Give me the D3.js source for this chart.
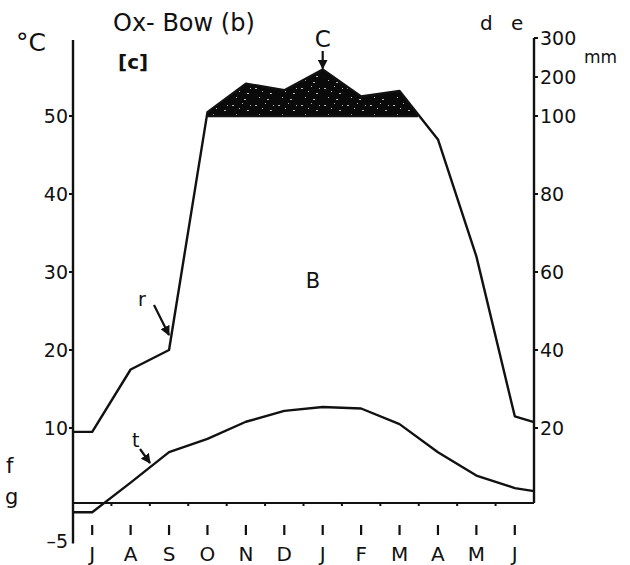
<!DOCTYPE html>
<html>
<head>
<meta charset="utf-8">
<script src="https://cdn.jsdelivr.net/npm/d3@7"></script>
<style>
  body { margin: 0; background: #fff; }
  svg text { font-family: "DejaVu Sans", "Liberation Sans", sans-serif; fill: #111; }
</style>
</head>
<body>
<svg width="630" height="565"></svg>
<script>
// month labels, July to June
var months = ["J","A","S","O","N","D","J","F","M","A","M","J"];
// mean monthly temperature, degC
var temp = [-0.8, 3.0, 6.9, 8.6, 10.8, 12.2, 12.7, 12.5, 10.5, 6.9, 3.9, 2.3];
// monthly rainfall, mm
var rain = [19, 35, 40, 110, 183, 166, 219, 150, 164, 94, 64, 23];
// values where the curves meet the side axes
var tempEdge = [-0.8, 1.9];
var rainEdge = [19, 21.5];
var tempTicks = [50, 40, 30, 20, 10];
var rainTicks = [300, 200, 100, 80, 60, 40, 20];

var svg = d3.select("svg");
var defs = svg.append("defs");
var left = 73, right = 534;
var ink = "#111";

var x = d3.scaleBand().domain(d3.range(12)).range([left, right]);
function cx(i) { return x(i) + x.bandwidth() / 2; }

var yT = d3.scaleLinear().domain([0, 50]).range([506, 116]);
// rain: 20 mm per 10 degC up to 100 mm, then compressed 1:10
var yR = d3.scaleLinear().domain([0, 100, 300]).range([yT(0), yT(50), yT(60)]);

var tPts = [[left, tempEdge[0]]].concat(temp.map(function(d, i) { return [cx(i), d]; }), [[right, tempEdge[1]]]);
var rPts = [[left, rainEdge[0]]].concat(rain.map(function(d, i) { return [cx(i), d]; }), [[right, rainEdge[1]]]);

// speckled black fill for the surplus above 100 mm
var pat = defs.append("pattern").attr("id", "speck")
  .attr("patternUnits", "userSpaceOnUse").attr("width", 23).attr("height", 17);
pat.append("rect").attr("width", 23).attr("height", 17).attr("fill", "#0a0a0a");
[[2, 3, 2, 1], [12, 1, 1, 1], [17, 8, 2, 1], [6, 12, 1, 1], [14, 14, 2, 1], [9, 6, 1, 1], [20, 3, 1, 1]].forEach(function(s) {
  pat.append("rect").attr("x", s[0]).attr("y", s[1]).attr("width", s[2]).attr("height", s[3]).attr("fill", "#bbb");
});

defs.append("clipPath").attr("id", "above")
  .append("rect").attr("x", left).attr("y", 0).attr("width", right - left).attr("height", yR(100));

svg.append("path")
  .datum(rPts)
  .attr("clip-path", "url(#above)")
  .attr("fill", "url(#speck)")
  .attr("d", d3.area().x(function(d) { return d[0]; }).y0(yR(100)).y1(function(d) { return yR(d[1]); }));

// 100 mm line under the surplus
svg.append("line")
  .attr("x1", cx(3)).attr("x2", cx(9) - 20)
  .attr("y1", yR(100)).attr("y2", yR(100))
  .attr("stroke", ink).attr("stroke-width", 2.4);

svg.append("path").datum(rPts)
  .attr("fill", "none").attr("stroke", ink).attr("stroke-width", 2.4).attr("stroke-linejoin", "round")
  .attr("d", d3.line().x(function(d) { return d[0]; }).y(function(d) { return yR(d[1]); }));

svg.append("path").datum(tPts)
  .attr("fill", "none").attr("stroke", ink).attr("stroke-width", 2.4).attr("stroke-linejoin", "round")
  .attr("d", d3.line().x(function(d) { return d[0]; }).y(function(d) { return yT(d[1]); }));

// axes
svg.append("line").attr("x1", left).attr("x2", left).attr("y1", 40).attr("y2", yT(-4.8))
  .attr("stroke", ink).attr("stroke-width", 2.4);
svg.append("line").attr("x1", right).attr("x2", right).attr("y1", yR(300)).attr("y2", yT(0) - 3)
  .attr("stroke", ink).attr("stroke-width", 2.4);
svg.append("line").attr("x1", left).attr("x2", right).attr("y1", yT(0) - 3).attr("y2", yT(0) - 3)
  .attr("stroke", ink).attr("stroke-width", 2);

// small ticks under the base line at month boundaries
svg.append("g").selectAll("line").data(d3.range(1, 12)).enter().append("line")
  .attr("x1", function(d) { return x(d); }).attr("x2", function(d) { return x(d); })
  .attr("y1", yT(0) - 3).attr("y2", yT(0))
  .attr("stroke", ink).attr("stroke-width", 2);

// left ticks
var lt = svg.append("g").selectAll("g").data(tempTicks).enter().append("g")
  .attr("transform", function(d) { return "translate(0," + yT(d) + ")"; });
lt.append("line").attr("x1", left - 4).attr("x2", left).attr("stroke", ink).attr("stroke-width", 2);
lt.append("text").attr("x", left - 5).attr("dy", "0.36em").attr("text-anchor", "end")
  .style("font-size", "19px").text(function(d) { return d; });
svg.append("text").attr("x", left - 5).attr("y", yT(-5) - 4).attr("dy", "0.36em").attr("text-anchor", "end")
  .style("font-size", "19px").text("\u2013" + "5");

// right ticks
var rt = svg.append("g").selectAll("g").data(rainTicks).enter().append("g")
  .attr("transform", function(d) { return "translate(0," + yR(d) + ")"; });
rt.append("line").attr("x1", right).attr("x2", right + 4).attr("stroke", ink).attr("stroke-width", 2);
rt.append("text").attr("x", right + 6).attr("dy", "0.36em")
  .style("font-size", "19px").text(function(d) { return d; });

// month ticks and labels
var mg = svg.append("g").selectAll("g").data(months).enter().append("g")
  .attr("transform", function(d, i) { return "translate(" + cx(i) + ",0)"; });
mg.append("line").attr("y1", 525).attr("y2", 535).attr("stroke", ink).attr("stroke-width", 2.2);
mg.append("text").attr("y", 561).attr("text-anchor", "middle")
  .style("font-size", "20px").text(function(d) { return d; });

// labels
function label(tx, ty, s, size, anchor) {
  return svg.append("text").attr("x", tx).attr("y", ty).attr("text-anchor", anchor || "start")
    .style("font-size", size + "px").text(s);
}
label(16, 51, "\u00b0C", 25);
label(113, 31, "Ox- Bow (b)", 24);
label(118, 69, "[c]", 20).style("font-weight", "bold");
label(480, 30, "d", 20);
label(511, 30, "e", 20);
label(584, 63, "mm", 17);
label(313, 288, "B", 21, "middle");
label(6, 473, "f", 21);
label(5, 504, "g", 21);
label(cx(6), 47, "C", 23, "middle");
label(138, 306, "r", 19);
label(132, 447, "t", 19);

// arrows
defs.append("marker").attr("id", "ah")
  .attr("viewBox", "0 0 10 10").attr("refX", 9).attr("refY", 5)
  .attr("markerWidth", 4.5).attr("markerHeight", 4.5).attr("orient", "auto")
  .append("path").attr("d", "M0,0L10,5L0,10z").attr("fill", ink);

function arrow(x1, y1, x2, y2) {
  svg.append("line").attr("x1", x1).attr("y1", y1).attr("x2", x2).attr("y2", y2)
    .attr("stroke", ink).attr("stroke-width", 2.2).attr("marker-end", "url(#ah)");
}
arrow(cx(6), 51, cx(6), yR(rain[6]) - 1);
arrow(154, 305, 169, yR(rain[2]) - 15);
arrow(140, 449, 150, 463);
</script>
</body>
</html>
